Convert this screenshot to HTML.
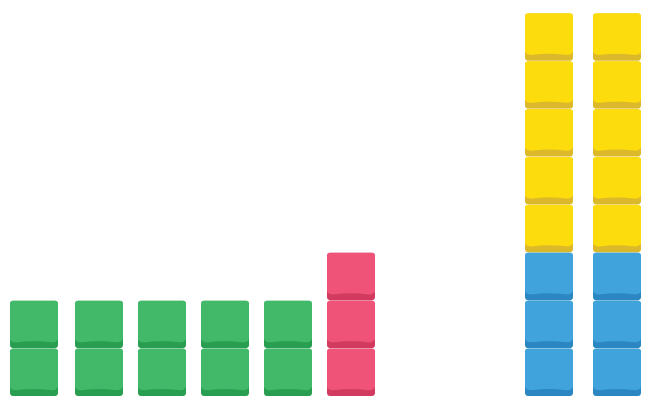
<!DOCTYPE html>
<html><head><meta charset="utf-8"><style>
html,body{margin:0;padding:0;background:#fff;width:652px;height:406px;overflow:hidden}
</style></head><body>
<svg id="chart" width="652" height="406" xmlns="http://www.w3.org/2000/svg"></svg>
<script>
const columnX = [10, 75, 138, 201, 264, 327, 525, 593];
const lowerCounts = [2, 2, 2, 2, 2, 3, 3, 3];
const upperCounts = [0, 0, 0, 0, 0, 0, 5, 5];
const lowerColors = ['green','green','green','green','green','red','blue','blue'];
const palette = {green:['#41b968','#2a9e50'], red:['#ef5378','#d23a60'], blue:['#41a3dc','#2b86c2'], yellow:['#fcdc0c','#dcb92a']};
const baseY = 396, cubeH = 47.9, cubeW = 48;
const svg = document.getElementById('chart');
const NS = 'http://www.w3.org/2000/svg';
function yAt(i){ return baseY - (i+1)*cubeH; }
function cube(x, i, color, name){
  const g = document.createElementNS(NS,'g');
  
  
  const y = yAt(i);
  const c = palette[color];
  const r = document.createElementNS(NS,'rect');
  r.setAttribute('x', x); r.setAttribute('y', y+0.5); r.setAttribute('width', cubeW); r.setAttribute('height', cubeH-0.5);
  r.setAttribute('rx', 3); r.setAttribute('fill', c[1]);
  g.appendChild(r);
  const p = document.createElementNS(NS,'path');
  const b = y + cubeH - 5;
  p.setAttribute('d', `M${x} ${y+3.5} Q${x} ${y+0.5} ${x+3} ${y+0.5} L${x+cubeW-3} ${y+0.5} Q${x+cubeW} ${y+0.5} ${x+cubeW} ${y+3.5} L${x+cubeW} ${b-4} Q${x+cubeW-2} ${b} ${x+cubeW-8} ${b-1} Q${x+cubeW/2} ${b-3} ${x+8} ${b-1} Q${x+2} ${b} ${x} ${b-4} Z`);
  p.setAttribute('fill', c[0]);
  g.appendChild(p);
  svg.appendChild(g);
}
columnX.forEach((x, k) => {
  for (let i = 0; i < lowerCounts[k]; i++) cube(x, i, lowerColors[k], 'cube-col' + (k+1) + '-' + lowerColors[k]);
  for (let j = 0; j < upperCounts[k]; j++) cube(x, lowerCounts[k] + j, 'yellow', 'cube-col' + (k+1) + '-yellow');
});
</script>
</body></html>
